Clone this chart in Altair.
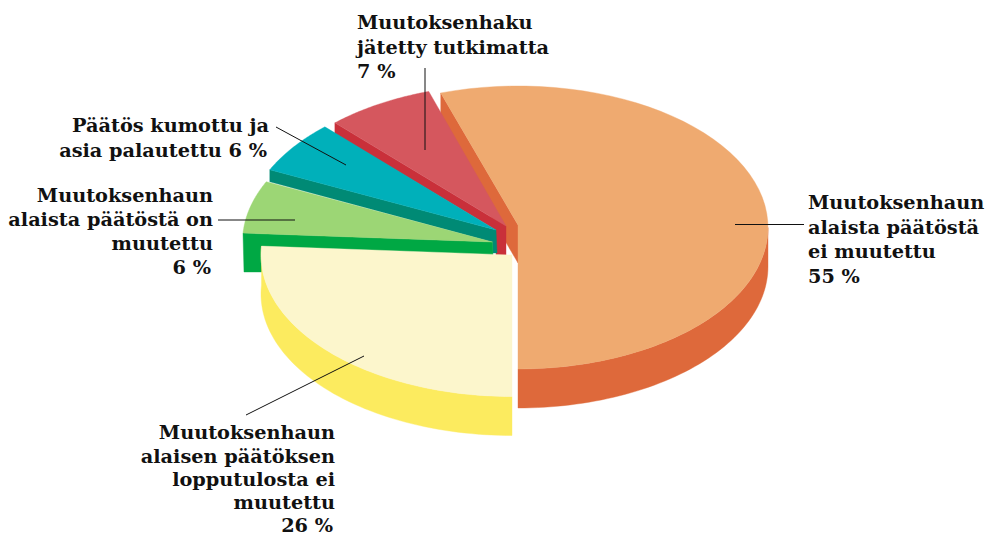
import math
import altair as alt
import pandas as pd

# slice shares (percent) and colours
names = ["orange", "cream", "green", "teal", "red"]
shares = [55, 26, 6, 6, 7]
top_colors = ["#EFAA70", "#FCF6CC", "#9CD675", "#00B0BA", "#D5575E"]
side_colors = ["#DE693B", "#FCEB5F", "#00A844", "#008A75", "#C9303A"]
apex_x = [518, 512, 492.5, 496, 506]
apex_y = [225, 255, 242, 230, 226]
center_y = [227.5, 255, 242, 230, 226]
RX = 250
RY = 141.5
DEPTH = 39
W, H = 979, 529

leaders = [
    (735, 224.5, 804, 224.5),
    (425, 68, 425, 150),
    (276, 127, 346, 165),
    (218, 220, 295, 220),
    (246, 415, 364, 356),
]

labels_left = [
    ("Muutoksenhaun", 808, 209), ("alaista päätöstä", 808, 234),
    ("ei muutettu", 808, 258), ("55 %", 808, 283),
    ("Muutoksenhaku", 357, 29), ("jätetty tutkimatta", 357, 54), ("7 %", 357, 78),
]
labels_right = [
    ("Päätös kumottu ja", 269, 132), ("asia palautettu 6 %", 267, 157),
    ("Muutoksenhaun", 213, 202), ("alaista päätöstä on", 213, 226),
    ("muutettu", 213, 250), ("6 %", 211, 274),
    ("Muutoksenhaun", 335, 439), ("alaisen päätöksen", 335, 463),
    ("lopputulosta ei", 335, 486), ("muutettu", 335, 509), ("26 %", 333, 532),
]


def arc(i, t0, t1, dy=0, n=60):
    pts = []
    rx = RX + (1 if i == 1 else 0)
    for k in range(n + 1):
        t = math.radians(t0 + (t1 - t0) * k / n)
        pts.append((apex_x[i] - rx * math.sin(t), center_y[i] + RY * math.cos(t) + dy))
    return pts


xs = alt.Scale(domain=[8, 8 + W])
ys = alt.Scale(domain=[8 + H, 8])


def poly(pts, color):
    df = pd.DataFrame({"x": [p[0] for p in pts] + [pts[0][0]],
                       "y": [p[1] for p in pts] + [pts[0][1]]})
    df["i"] = range(len(df))
    return alt.Chart(df).mark_line(fill=color, stroke=color, strokeWidth=0.4, interpolate="linear").encode(
        x=alt.X("x:Q", scale=xs, axis=None),
        y=alt.Y("y:Q", scale=ys, axis=None),
        order="i:Q",
    )


# cumulative angles: orange runs counter-clockwise from the bottom, the rest clockwise
deg = [s * 3.6 for s in shares]
a_cream = deg[1]
a_green = a_cream + deg[2]
a_teal = a_green + deg[3]
a_red = a_teal + deg[4]

layers = []
# orange
oa = arc(0, 0, -deg[0])
layers.append(poly(arc(0, 0, -90) + arc(0, -90, 0, DEPTH), side_colors[0]))
layers.append(poly([oa[-1], (518, 225), (518, 225 + DEPTH - 1), (oa[-1][0], oa[-1][1] + DEPTH - 1)], side_colors[0]))
layers.append(poly(oa + [(518, 225)], top_colors[0]))
# red
ra = arc(4, a_teal, a_red)
p = ra[0]
layers.append(poly([p, (506, 226), (506, 255), (496, 255), (496, 230), (p[0], p[1] + 11)], side_colors[4]))
layers.append(poly(ra + [(506, 226)], top_colors[4]))
# teal
ta = arc(3, a_green, a_teal)
p = ta[0]
layers.append(poly([p, (496, 230), (497, 253), (492.5, 253), (492.5, 242), (p[0], p[1] + 12)], side_colors[3]))
layers.append(poly(ta + [(496, 230)], top_colors[3]))
# green
ga = arc(2, a_cream, a_green)
p = ga[0]
layers.append(poly([p, (492.5, 242), (493, 256), (262, 256), (262, 272), (p[0] + 1, 272)], side_colors[2]))
layers.append(poly(ga + [(492.5, 242)], top_colors[2]))
# cream / yellow
ca = arc(1, 0, a_cream)
layers.append(poly(ca + arc(1, a_cream, 0, DEPTH), side_colors[1]))
layers.append(poly(ca + [(512, 255)], top_colors[1]))

# leader lines
ldf = pd.DataFrame(leaders, columns=["x", "y", "x2", "y2"])
layers.append(alt.Chart(ldf).mark_rule(color="#111111", strokeWidth=1).encode(
    x=alt.X("x:Q", scale=xs, axis=None), y=alt.Y("y:Q", scale=ys, axis=None),
    x2="x2:Q", y2="y2:Q"))

# text
for rows, al in ((labels_left, "left"), (labels_right, "right")):
    tdf = pd.DataFrame(rows, columns=["t", "x", "y"])
    layers.append(alt.Chart(tdf).mark_text(
        align=al, baseline="alphabetic", font="DejaVu Serif", fontWeight="bold",
        fontSize=19.3, color="#111111").encode(
        x=alt.X("x:Q", scale=xs, axis=None), y=alt.Y("y:Q", scale=ys, axis=None), text="t:N"))

chart = alt.layer(*layers).properties(
    width=W, height=H, padding=0, autosize=alt.AutoSizeParams(type="none"), background="white"
).configure_view(stroke=None)

chart.save("out.html", embed_options={"renderer": "svg", "actions": False})
